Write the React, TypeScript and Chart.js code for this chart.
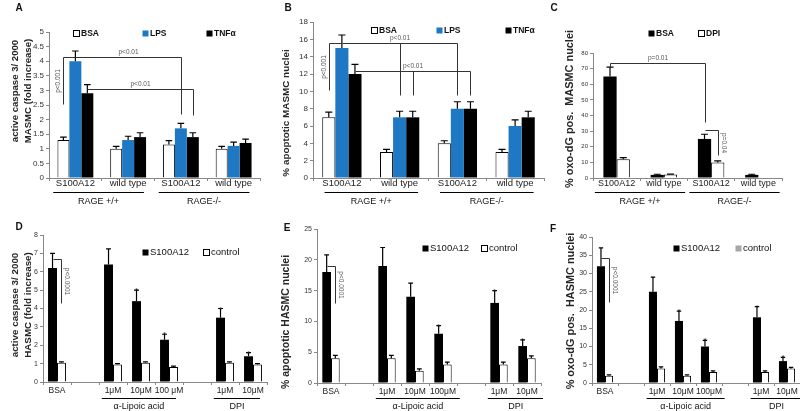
import React, { useEffect, useRef } from "react";
import { Chart, registerables } from "chart.js";

Chart.register(...registerables);

const FONT = "'Liberation Sans', Arial, Helvetica, sans-serif";
Chart.defaults.font.family = FONT;

// ---------- shared ----------
const topCategories = ["S100A12", "wild type", "S100A12", "wild type"];
const topGroups = ["RAGE +/+", "RAGE-/-"];
const dCategories = ["BSA", "", "1μM", "10μM", "100 μM", "", "1μM", "10μM"];
const efCategories = ["BSA", "", "1μM", "10μM", "100μM", "", "1μM", "10μM"];
const bottomGroups = ["α-Lipoic acid", "DPI"];

const BLUE = "#1e78c3";
const BLACK = "#000000";
const WHITE = "#ffffff";
const GRAY = "#a6a6a6";

// ---------- Panel A ----------
const aBSA = [1.3, 1.0, 1.15, 1.0];
const aBSAErr = [0.1, 0.08, 0.13, 0.08];
const aLPS = [4.0, 1.3, 1.7, 1.1];
const aLPSErr = [0.35, 0.13, 0.17, 0.13];
const aTNF = [2.9, 1.4, 1.4, 1.2];
const aTNFErr = [0.3, 0.15, 0.15, 0.13];

// ---------- Panel B ----------
const bBSA = [7, 3, 4, 3];
const bBSAErr = [0.6, 0.3, 0.3, 0.3];
const bLPS = [15, 7, 8, 6];
const bLPSErr = [1.5, 0.7, 0.8, 0.7];
const bTNF = [12, 7, 8, 7];
const bTNFErr = [1.1, 0.7, 0.8, 0.7];

// ---------- Panel C ----------
const cBSA = [65, 2, 25, 2];
const cBSAErr = [6, 0.4, 3, 0.4];
const cDPI = [12, 2.2, 10, 0.3];
const cDPIErr = [1, 0.3, 1, 0];

// ---------- Panel D ----------
const dS100 = [6.2, null, 6.4, 4.4, 2.3, null, 3.5, 1.4];
const dS100Err = [0.8, null, 0.85, 0.6, 0.3, null, 0.5, 0.2];
const dCtrl = [1.05, null, 0.95, 1.05, 0.82, null, 1.05, 0.95];
const dCtrlErr = [0.05, null, 0.05, 0.05, 0.04, null, 0.05, 0.05];

// ---------- Panel E ----------
const eS100 = [18, null, 19, 14, 8, null, 13, 6];
const eS100Err = [2.8, null, 3, 2.2, 1.3, null, 2, 1];
const eCtrl = [4, null, 4, 2, 3, null, 3, 4];
const eCtrlErr = [0.5, null, 0.5, 0.3, 0.4, null, 0.4, 0.4];

// ---------- Panel F ----------
const fS100 = [32, null, 25, 17, 10, null, 18, 6];
const fS100Err = [5, null, 4, 2.7, 1.7, null, 2.9, 1];
const fCtrl = [2, null, 4, 2, 3, null, 3, 4];
const fCtrlErr = [0.2, null, 0.4, 0.2, 0.3, null, 0.3, 0.3];

type DS = { label: string; data: (number | null)[]; err: (number | null)[]; fill: string; border: number };
type Pt = [number, number, number];
type Bracket = { path: Pt[]; branch?: Pt[]; text: string; place: "left" | "right" | "above" };
type LegendItem = { label: string; fill: string; border: boolean; x: number };
type Panel = {
  left: number; top: number; width: number; height: number;
  area: { left: number; right: number; top: number; bottom: number };
  labels: string[];
  datasets: DS[];
  yMax: number; yStep: number; tickFont: number; catFont: number; catPad: number; catPct: number;
  letter: string; letterXY: [number, number];
  yTitle: string[]; yTitleX: number[]; yTitleY: number; yTitleFont: number;
  legend: LegendItem[]; legendY: number; legendFont: string;
  groups: { label: string; from: number; to: number }[]; groupPad: [number, number]; groupLineY: number; groupTextY: number;
  brackets: Bracket[];
  stars: [number, number][];
};

const panels: Panel[] = [
  {
    left: 0, top: 0, width: 268, height: 212,
    area: { left: 49, right: 260, top: 32, bottom: 178 },
    labels: topCategories,
    datasets: [
      { label: "BSA", data: aBSA, err: aBSAErr, fill: WHITE, border: 1 },
      { label: "LPS", data: aLPS, err: aLPSErr, fill: BLUE, border: 0 },
      { label: "TNFα", data: aTNF, err: aTNFErr, fill: BLACK, border: 0 },
    ],
    yMax: 5, yStep: 0.5, tickFont: 8, catFont: 9.5, catPad: -3, catPct: 0.68,
    letter: "A", letterXY: [19, 8],
    yTitle: ["active caspase 3/ 2000", "MASMC (fold increase)"], yTitleX: [15.5, 28], yTitleY: 91, yTitleFont: 9.6,
    legend: [
      { label: "BSA", fill: WHITE, border: true, x: 73 },
      { label: "LPS", fill: BLUE, border: false, x: 142 },
      { label: "TNFα", fill: BLACK, border: false, x: 206 },
    ],
    legendY: 33, legendFont: "bold 8.5px",
    groups: [{ label: topGroups[0], from: 0, to: 1 }, { label: topGroups[1], from: 2, to: 3 }],
    groupPad: [0.42, 0.3], groupLineY: 192, groupTextY: 201.5,
    brackets: [
      { path: [[0, 0, 2.55], [0, 0, 4.15], [1, 0, 4.15]], text: "p<0.001", place: "left" },
      { path: [[1, 0, 4.15], [1, 2, 4.15], [1, 2, 2.2]], text: "p<0.01", place: "above" },
      { path: [[2, 0, 3.05], [2, 2, 3.05], [2, 2, 2.15]], text: "p<0.01", place: "above" },
    ],
    stars: [],
  },
  {
    left: 265, top: 0, width: 282, height: 212,
    area: { left: 48, right: 279, top: 22, bottom: 178 },
    labels: topCategories,
    datasets: [
      { label: "BSA", data: bBSA, err: bBSAErr, fill: WHITE, border: 1 },
      { label: "LPS", data: bLPS, err: bLPSErr, fill: BLUE, border: 0 },
      { label: "TNFα", data: bTNF, err: bTNFErr, fill: BLACK, border: 0 },
    ],
    yMax: 18, yStep: 2, tickFont: 8, catFont: 9.5, catPad: -3, catPct: 0.68,
    letter: "B", letterXY: [23, 8],
    yTitle: ["% apoptotic MASMC nuclei"], yTitleX: [21], yTitleY: 113, yTitleFont: 9.9,
    legend: [
      { label: "BSA", fill: WHITE, border: true, x: 106 },
      { label: "LPS", fill: BLUE, border: false, x: 171 },
      { label: "TNFα", fill: BLACK, border: false, x: 240 },
    ],
    legendY: 30, legendFont: "bold 8.5px",
    groups: [{ label: topGroups[0], from: 0, to: 1 }, { label: topGroups[1], from: 2, to: 3 }],
    groupPad: [0.3, 0.32], groupLineY: 192, groupTextY: 201.5,
    brackets: [
      { path: [[0, 0, 10.2], [0, 0, 15.6], [1, 0, 15.6]], text: "p<0.001", place: "left" },
      { path: [[1, 0, 15.6], [1, 2, 15.6], [1, 2, 9.6]], branch: [[1, 1, 15.6], [1, 1, 9.6]], text: "p<0.01", place: "above" },
      { path: [[2, 0, 12.35], [2, 2, 12.35], [2, 2, 9.6]], branch: [[2, 1, 12.35], [2, 1, 9.6]], text: "p<0.01", place: "above" },
    ],
    stars: [],
  },
  {
    left: 530, top: 0, width: 270, height: 212,
    area: { left: 63, right: 252, top: 53, bottom: 178 },
    labels: topCategories,
    datasets: [
      { label: "BSA", data: cBSA, err: cBSAErr, fill: BLACK, border: 0 },
      { label: "DPI", data: cDPI, err: cDPIErr, fill: WHITE, border: 1 },
    ],
    yMax: 80, yStep: 10, tickFont: 6, catFont: 9, catPad: -3, catPct: 0.56,
    letter: "C", letterXY: [24, 8],
    yTitle: ["% oxo-dG pos.  MASMC nuclei"], yTitleX: [40], yTitleY: 109, yTitleFont: 10.9,
    legend: [
      { label: "BSA", fill: BLACK, border: false, x: 118 },
      { label: "DPI", fill: WHITE, border: true, x: 168 },
    ],
    legendY: 33, legendFont: "bold 8.5px",
    groups: [{ label: topGroups[0], from: 0, to: 1 }, { label: topGroups[1], from: 2, to: 3 }],
    groupPad: [0.46, 0.45], groupLineY: 192, groupTextY: 201.5,
    brackets: [
      { path: [[0, 0, 71], [0, 0, 73.6], [0, 2, 73.6], [0, 2, 35.8]], text: "p=0.01", place: "above" },
      { path: [[0, 2, 30.7], [1, 2, 30.7], [1, 2, 14.7]], text: "p=0.04", place: "right" },
    ],
    stars: [],
  },
  {
    left: 0, top: 205, width: 272, height: 206,
    area: { left: 43, right: 267, top: 30, bottom: 177 },
    labels: dCategories,
    datasets: [
      { label: "S100A12", data: dS100, err: dS100Err, fill: BLACK, border: 0 },
      { label: "control", data: dCtrl, err: dCtrlErr, fill: WHITE, border: 1 },
    ],
    yMax: 8, yStep: 1, tickFont: 7, catFont: 8.5, catPad: 1, catPct: 0.64,
    letter: "D", letterXY: [19, 22],
    yTitle: ["active caspase 3/ 2000", "HASMC (fold increase)"], yTitleX: [15.5, 28], yTitleY: 100, yTitleFont: 9.8,
    legend: [
      { label: "S100A12", fill: BLACK, border: false, x: 142 },
      { label: "control", fill: WHITE, border: true, x: 203 },
    ],
    legendY: 47, legendFont: "9.5px",
    groups: [{ label: bottomGroups[0], from: 2, to: 4 }, { label: bottomGroups[1], from: 6, to: 7 }],
    groupPad: [0.4, 0.25], groupLineY: 193, groupTextY: 202,
    brackets: [{ path: [[0, 0, 6.7], [1, 0, 6.7], [1, 0, 4.3]], text: "p<0.0001", place: "right" }],
    stars: [[0, 3], [0, 4], [0, 6], [0, 7]],
  },
  {
    left: 265, top: 205, width: 278, height: 206,
    area: { left: 52, right: 276, top: 24, bottom: 178 },
    labels: efCategories,
    datasets: [
      { label: "S100A12", data: eS100, err: eS100Err, fill: BLACK, border: 0 },
      { label: "control", data: eCtrl, err: eCtrlErr, fill: WHITE, border: 1 },
    ],
    yMax: 25, yStep: 5, tickFont: 7, catFont: 8.5, catPad: 1, catPct: 0.62,
    letter: "E", letterXY: [22, 23],
    yTitle: ["% apoptotic HASMC nuclei"], yTitleX: [21], yTitleY: 117, yTitleFont: 10.5,
    legend: [
      { label: "S100A12", fill: BLACK, border: false, x: 157 },
      { label: "control", fill: WHITE, border: true, x: 216 },
    ],
    legendY: 43, legendFont: "9.5px",
    groups: [{ label: bottomGroups[0], from: 2, to: 4 }, { label: bottomGroups[1], from: 6, to: 7 }],
    groupPad: [0.4, 0.6], groupLineY: 193, groupTextY: 202,
    brackets: [{ path: [[0, 0, 19], [1, 0, 19], [1, 0, 13]], text: "p<0.0001", place: "right" }],
    stars: [[0, 4], [0, 6], [0, 7]],
  },
  {
    left: 530, top: 205, width: 270, height: 206,
    area: { left: 62, right: 270, top: 32, bottom: 178 },
    labels: efCategories,
    datasets: [
      { label: "S100A12", data: fS100, err: fS100Err, fill: BLACK, border: 0 },
      { label: "control", data: fCtrl, err: fCtrlErr, fill: WHITE, border: 1 },
    ],
    yMax: 40, yStep: 5, tickFont: 7, catFont: 8.5, catPad: 1, catPct: 0.62,
    letter: "F", letterXY: [23, 24],
    yTitle: ["% oxo-dG pos.  HASMC nuclei"], yTitleX: [41], yTitleY: 106, yTitleFont: 10.9,
    legend: [
      { label: "S100A12", fill: BLACK, border: false, x: 143 },
      { label: "control", fill: GRAY, border: false, x: 205 },
    ],
    legendY: 43, legendFont: "9.5px",
    groups: [{ label: bottomGroups[0], from: 2, to: 4 }, { label: bottomGroups[1], from: 6, to: 7 }],
    groupPad: [0.4, 0.6], groupLineY: 193, groupTextY: 202,
    brackets: [{ path: [[0, 0, 34.2], [1, 0, 34.2], [1, 0, 22.2]], text: "p<0.0001", place: "right" }],
    stars: [[0, 3], [0, 4], [0, 6], [0, 7]],
  },
];

function overlayPlugin(p: Panel) {
  return {
    id: "overlay" + p.letter,
    afterDatasetsDraw(chart: any) {
      const ctx: CanvasRenderingContext2D = chart.ctx;
      const ys = chart.scales.y;
      ctx.save();
      // error bars
      ctx.strokeStyle = "#000";
      ctx.lineWidth = 1.2;
      p.datasets.forEach((d, di) => {
        const meta = chart.getDatasetMeta(di);
        d.data.forEach((v, i) => {
          const e = d.err[i];
          if (v == null || e == null || e <= 0) return;
          const el = meta.data[i];
          const yt = ys.getPixelForValue(v + e);
          const cap = Math.min(7, el.width * 0.55);
          ctx.beginPath();
          ctx.moveTo(el.x, el.y);
          ctx.lineTo(el.x, yt);
          ctx.moveTo(el.x - cap / 2, yt);
          ctx.lineTo(el.x + cap / 2, yt);
          ctx.stroke();
        });
      });
      // stars
      ctx.fillStyle = "#222";
      ctx.font = `8px ${FONT}`;
      ctx.textAlign = "center";
      ctx.textBaseline = "alphabetic";
      p.stars.forEach(([di, i]) => {
        const v = p.datasets[di].data[i] as number;
        const e = (p.datasets[di].err[i] as number) || 0;
        const el = chart.getDatasetMeta(di).data[i];
        ctx.fillText("*", el.x, ys.getPixelForValue(v + e) + 3);
      });
      // brackets
      const px = (pt: Pt): [number, number] => [
        Math.round(chart.getDatasetMeta(pt[0]).data[pt[1]].x) + 0.5,
        Math.round(ys.getPixelForValue(pt[2])) + 0.5,
      ];
      ctx.strokeStyle = "#333";
      ctx.lineWidth = 1;
      ctx.font = `6.5px ${FONT}`;
      ctx.fillStyle = "#555";
      p.brackets.forEach((b) => {
        const pts = b.path.map(px);
        ctx.beginPath();
        pts.forEach((q, k) => (k === 0 ? ctx.moveTo(q[0], q[1]) : ctx.lineTo(q[0], q[1])));
        if (b.branch) {
          const br = b.branch.map(px);
          ctx.moveTo(br[0][0], br[0][1]);
          ctx.lineTo(br[1][0], br[1][1]);
        }
        ctx.stroke();
        if (b.place === "above") {
          let seg = 0;
          for (let k = 0; k < pts.length - 1; k++) {
            if (Math.abs(pts[k][1] - pts[k + 1][1]) < 0.1) { seg = k; break; }
          }
          ctx.textAlign = "center";
          ctx.textBaseline = "middle";
          ctx.fillText(b.text, (pts[seg][0] + pts[seg + 1][0]) / 2, pts[seg][1] - 5);
        } else if (b.place === "left") {
          const a = pts[0], c = pts[1];
          ctx.save();
          ctx.translate(a[0] - 5, (a[1] + c[1]) / 2);
          ctx.rotate(-Math.PI / 2);
          ctx.textAlign = "center";
          ctx.textBaseline = "middle";
          ctx.fillText(b.text, 0, 0);
          ctx.restore();
        } else {
          const a = pts[pts.length - 2], c = pts[pts.length - 1];
          ctx.save();
          ctx.translate(c[0] + 5, (a[1] + c[1]) / 2);
          ctx.rotate(Math.PI / 2);
          ctx.textAlign = "center";
          ctx.textBaseline = "middle";
          ctx.fillText(b.text, 0, 0);
          ctx.restore();
        }
      });
      ctx.restore();
    },
    afterDraw(chart: any) {
      const ctx: CanvasRenderingContext2D = chart.ctx;
      const xs = chart.scales.x;
      ctx.save();
      // panel letter
      ctx.fillStyle = "#111";
      ctx.font = `bold 10px ${FONT}`;
      ctx.textAlign = "center";
      ctx.textBaseline = "middle";
      ctx.fillText(p.letter, p.letterXY[0], p.letterXY[1]);
      // y title
      ctx.font = `bold ${p.yTitleFont}px ${FONT}`;
      ctx.fillStyle = "#262626";
      p.yTitle.forEach((t, k) => {
        ctx.save();
        ctx.translate(p.yTitleX[k], p.yTitleY);
        ctx.rotate(-Math.PI / 2);
        ctx.fillText(t, 0, 0);
        ctx.restore();
      });
      // legend
      const box = 6;
      ctx.font = `${p.legendFont} ${FONT}`;
      ctx.textAlign = "left";
      p.legend.forEach((it) => {
        const bx = Math.round(it.x) + 0.5;
        const by = Math.round(p.legendY - box / 2) + 0.5;
        ctx.fillStyle = it.fill;
        ctx.fillRect(bx, by, box, box);
        if (it.border) {
          ctx.strokeStyle = "#000";
          ctx.lineWidth = 1;
          ctx.strokeRect(bx, by, box, box);
        }
        ctx.fillStyle = "#111";
        ctx.fillText(it.label, it.x + box + 2, p.legendY + 0.5);
      });
      // groups
      const w = xs.getPixelForValue(1) - xs.getPixelForValue(0);
      ctx.strokeStyle = "#000";
      ctx.lineWidth = 1;
      ctx.font = `9px ${FONT}`;
      ctx.textAlign = "center";
      ctx.fillStyle = "#111";
      p.groups.forEach((g) => {
        const x1 = xs.getPixelForValue(g.from) - p.groupPad[0] * w;
        const x2 = xs.getPixelForValue(g.to) + p.groupPad[1] * w;
        ctx.beginPath();
        ctx.moveTo(x1, p.groupLineY + 0.5);
        ctx.lineTo(x2, p.groupLineY + 0.5);
        ctx.stroke();
        ctx.fillText(g.label, (x1 + x2) / 2, p.groupTextY);
      });
      ctx.restore();
    },
  };
}

function PanelChart({ p }: { p: Panel }) {
  const ref = useRef<HTMLCanvasElement | null>(null);
  useEffect(() => {
    if (!ref.current) return;
    const axisColor = "#888";
    const chart = new Chart(ref.current, {
      type: "bar",
      data: {
        labels: p.labels,
        datasets: p.datasets.map((d) => ({
          label: d.label,
          data: d.data,
          backgroundColor: d.fill,
          borderColor: "#000",
          borderWidth: d.border,
          categoryPercentage: p.catPct,
          barPercentage: 1,
        })),
      },
      options: {
        responsive: false,
        animation: false,
        devicePixelRatio: 1,
        layout: { padding: { left: 0, top: p.area.top, right: p.width - p.area.right, bottom: 0 } },
        plugins: { legend: { display: false }, tooltip: { enabled: false } },
        scales: {
          x: {
            grid: { display: true, drawOnChartArea: false, drawTicks: true, tickLength: 3, color: axisColor, offset: true },
            border: { display: true, color: axisColor },
            ticks: { font: { size: p.catFont }, color: "#222", padding: p.catPad, maxRotation: 0, minRotation: 0, autoSkip: false },
            afterFit: (s: any) => { s.height = p.height - p.area.bottom; },
          },
          y: {
            min: 0,
            max: p.yMax,
            ticks: {
              stepSize: p.yStep,
              font: { size: p.tickFont },
              color: "#333",
              padding: 2,
              callback: (v: any) => String(Math.round(Number(v) * 100) / 100),
            },
            grid: { display: true, drawOnChartArea: false, drawTicks: true, tickLength: 3, color: axisColor },
            border: { display: true, color: axisColor },
            afterFit: (s: any) => { s.width = p.area.left; },
          },
        },
      } as any,
      plugins: [overlayPlugin(p)],
    });
    return () => chart.destroy();
  }, [p]);
  return (
    <canvas
      ref={ref}
      width={p.width}
      height={p.height}
      style={{ position: "absolute", left: p.left, top: p.top, width: p.width, height: p.height }}
    />
  );
}

export default function App() {
  return (
    <div style={{ position: "absolute", left: 0, top: 0, width: 800, height: 411, background: "#fff", overflow: "hidden" }}>
      {panels.map((p) => (
        <PanelChart key={p.letter} p={p} />
      ))}
    </div>
  );
}
